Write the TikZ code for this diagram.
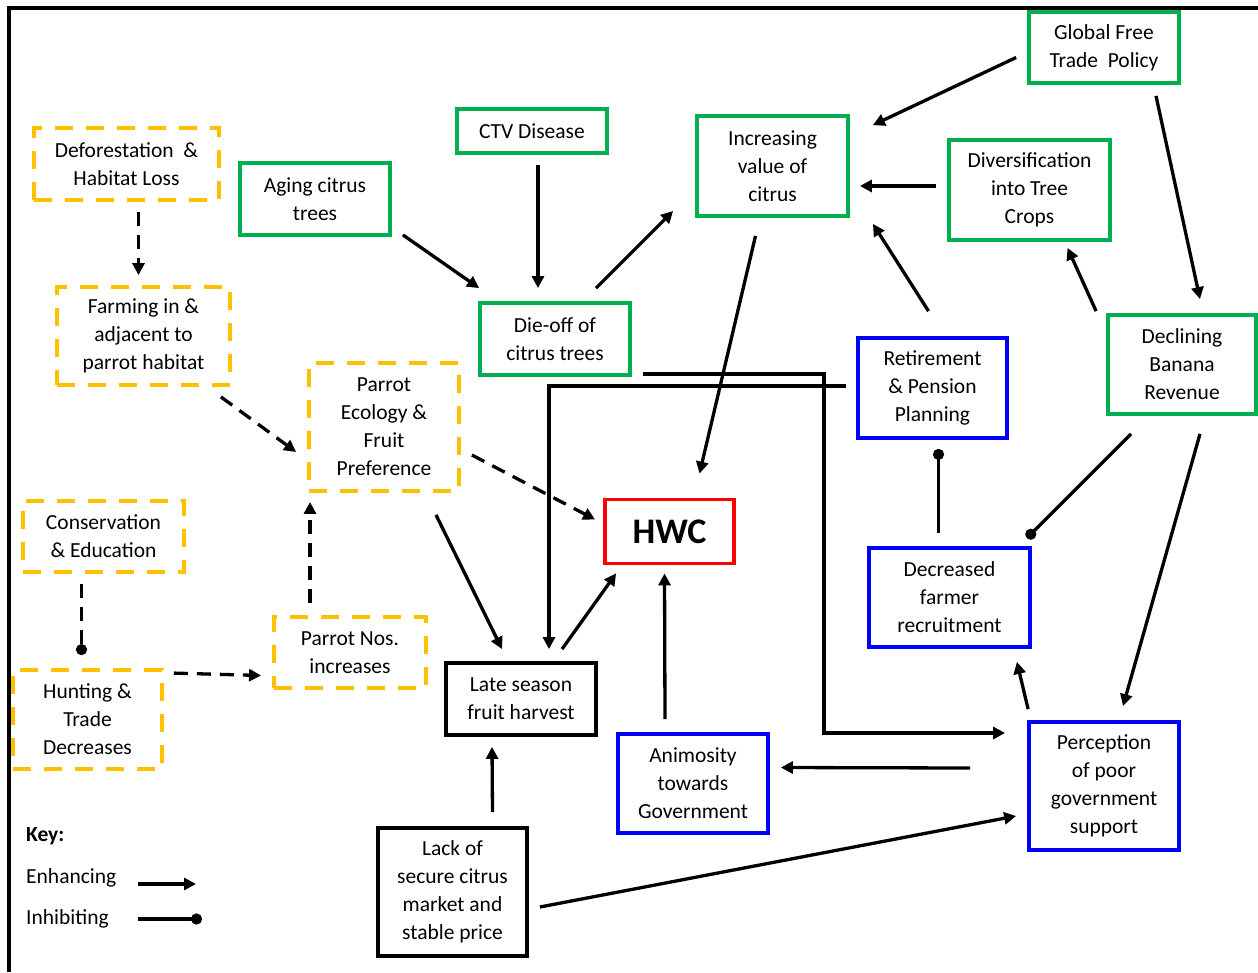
\documentclass[tikz,border=0pt]{standalone}
\usepackage{fontspec}
\setmainfont{Carlito}
\usetikzlibrary{arrows.meta}
\definecolor{cyel}{HTML}{FFC000}
\definecolor{cgrn}{HTML}{00B050}
\definecolor{cblu}{HTML}{0000FF}
\definecolor{cred}{HTML}{FF0000}
\begin{document}
\begin{tikzpicture}[x=1pt,y=-1pt,
  every node/.style={font=\fontsize{21.5}{28}\selectfont, align=center, inner sep=0pt},
  ybox/.style={draw=cyel, line width=3.8pt, dash pattern=on 18pt off 13pt},
  gbox/.style={draw=cgrn, line width=3.8pt},
  bbox/.style={draw=cblu, line width=3.8pt},
  kbox/.style={draw=black, line width=3.8pt},
  arr/.style={line width=3.3pt, -{Triangle[length=12pt,width=12pt]}},
  darr/.style={arr, dash pattern=on 14pt off 9pt},
  inh/.style={line width=3.3pt, -{Circle[length=11pt]}},
  dinh/.style={inh, dash pattern=on 14pt off 9pt},
  keytext/.style={anchor=west, align=left}
]
\useasboundingbox (0,0) rectangle (1258,972);
\fill[white] (0,0) rectangle (1258,972);
% frame
\draw[line width=4pt] (9,972) -- (9,8) -- (1258,8);

% yellow nodes
\node[ybox, minimum width=185, minimum height=72] (defor) at (126.5,164) {Deforestation~ \&\\Habitat Loss};
\node[ybox, minimum width=173, minimum height=98] (farm) at (143.5,336) {Farming in \&\\adjacent to\\parrot habitat};
\node[ybox, minimum width=150, minimum height=128] (ecol) at (384,427) {Parrot\\Ecology \&\\Fruit\\Preference};
\node[ybox, minimum width=161, minimum height=71] (cons) at (103.5,536.5) {Conservation\\\& Education};
\node[ybox, minimum width=149, minimum height=99] (hunt) at (87.5,719.5) {Hunting \&\\Trade\\Decreases};
\node[ybox, minimum width=152, minimum height=71] (nos) at (350,652.5) {Parrot Nos.\\increases};

% green nodes
\node[gbox, minimum width=150, minimum height=72] (aging) at (315,199) {Aging citrus\\trees};
\node[gbox, minimum width=150, minimum height=44] (ctv) at (532,131) {CTV Disease};
\node[gbox, minimum width=150, minimum height=72] (dieoff) at (555,339) {Die-off of\\citrus trees};
\node[gbox, minimum width=151, minimum height=100] (incr) at (772.5,166) {Increasing\\value of\\citrus};
\node[gbox, minimum width=150, minimum height=71] (global) at (1104,47.5) {Global Free\\Trade~ Policy};
\node[gbox, minimum width=161, minimum height=100] (divers) at (1029.5,190) {Diversification\\into Tree\\Crops};
\node[gbox, minimum width=148, minimum height=99] (decl) at (1182,364.5) {Declining\\Banana\\Revenue};

% blue nodes
\node[bbox, minimum width=149, minimum height=100] (retire) at (932.5,388) {Retirement\\\& Pension\\Planning};
\node[bbox, minimum width=161, minimum height=99] (decr) at (949.5,597.5) {Decreased\\farmer\\recruitment};
\node[bbox, minimum width=150, minimum height=128] (perc) at (1104,786) {Perception\\of poor\\government\\support};
\node[bbox, minimum width=150, minimum height=99] (anim) at (693,783.5) {Animosity\\towards\\Government};

% red / black nodes
\node[draw=cred, line width=3.8pt, minimum width=129, minimum height=64, font=\fontsize{36}{40}\selectfont\bfseries] (hwc) at (669.5,531.5) {HWC};
\node[kbox, minimum width=150, minimum height=72] (late) at (521,699) {Late season\\fruit harvest};
\node[kbox, minimum width=149, minimum height=128] (lack) at (452.5,892) {Lack of\\secure citrus\\market and\\stable price};

% dashed connectors
\draw[darr] ([shift={(12,10)}]defor.south) -- ([shift={(-5,-10)}]farm.north);
\draw[darr] ([shift={(-11,10)}]farm.south east) -- ([shift={(-11,25)}]ecol.west);
\draw[darr] ([shift={(11,28)}]ecol.east) -- ([shift={(-8,-12)}]hwc.west);
\draw[dinh] ([shift={(-22,10)}]cons.south) -- ([shift={(-6,-13)}]hunt.north);
\draw[darr] ([shift={(10,5)}]hunt.north east) -- ([shift={(-11,23)}]nos.west);
\draw[darr] ([shift={(-40,-12)}]nos.north) -- ([shift={(-74,9)}]ecol.south);

% solid connectors
\draw[arr] ([shift={(11,-2)}]aging.south east) -- ([shift={(1,-13)}]dieoff.north west);
\draw[arr] ([shift={(6,10)}]ctv.south) -- ([shift={(-17,-13)}]dieoff.north);
\draw[arr] ([shift={(41,-13)}]dieoff.north) -- ([shift={(-22,45)}]incr.west);
\draw[arr] ([shift={(-11,10)}]global.west) -- ([shift={(23,11)}]incr.north east);
\draw[arr] ([shift={(-11,-4)}]divers.west) -- ([shift={(10,20)}]incr.east);
\draw[arr] ([shift={(52,11)}]global.south) -- ([shift={(18,-14)}]decl.north);
\draw[arr] ([shift={(-10,-2)}]decl.north west) -- ([shift={(38,6)}]divers.south);
\draw[arr] ([shift={(-4,-25)}]retire.north) -- ([shift={(23,6)}]incr.south east);
\draw[arr] ([shift={(-17,18)}]incr.south) -- ([shift={(30,-24)}]hwc.north);
\draw[inh] ([shift={(-11,-13)}]decr.north) -- ([shift={(6,9)}]retire.south);
\draw[inh] ([shift={(-51,18)}]decl.south) -- ([shift={(-5,-8)}]decr.north east);
\draw[arr] ([shift={(18,18)}]decl.south) -- ([shift={(19,-14)}]perc.north);
\draw[arr] ([shift={(1,-11)}]perc.north west) -- ([shift={(-15,13)}]decr.south east);
\draw[arr] ([shift={(-57,-18)}]perc.west) -- ([shift={(11,-16)}]anim.east);
\draw[arr] ([shift={(-28,-13)}]anim.north) -- ([shift={(-5,8)}]hwc.south);
\coordinate (bend1) at (824,733);
\draw[arr] ([shift={(11,-3)}]dieoff.south east) -| (bend1) -- ([shift={(-22,-53)}]perc.west);
\draw[arr] ([shift={(-10,-2)}]retire.west) -| ([shift={(28,-12)}]late.north);
\draw[arr] ([shift={(52,22)}]ecol.south) -- ([shift={(-19,-12)}]late.north);
\draw[arr] ([shift={(41,-12)}]late.north) -- ([shift={(13,8)}]hwc.south west);
\draw[arr] ([shift={(40,-14)}]lack.north) -- ([shift={(-29,10)}]late.south);
\draw[arr] ([shift={(11,15)}]lack.east) -- ([shift={(-11,30)}]perc.west);

% key
\node[keytext, font=\fontsize{21.5}{28}\selectfont\bfseries] (keyt) at (26,836) {Key:};
\node[keytext] (enh) at (26,878) {Enhancing};
\node[keytext] (inhb) at (26,919) {Inhibiting};
\coordinate (k1a) at (138,884);
\coordinate (k1b) at (196,884);
\coordinate (k2a) at (138,919);
\coordinate (k2b) at (202,919);
\draw[arr] (k1a) -- (k1b);
\draw[inh] (k2a) -- (k2b);
\end{tikzpicture}
\end{document}
